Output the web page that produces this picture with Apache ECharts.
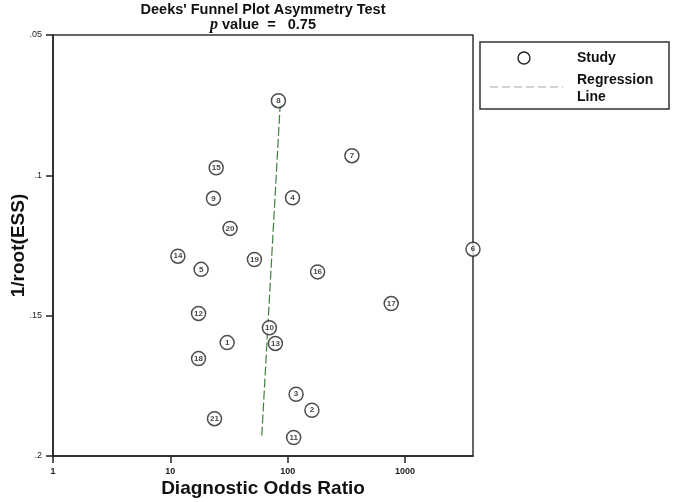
<!DOCTYPE html>
<html>
<head>
<meta charset="utf-8">
<script src="https://cdn.jsdelivr.net/npm/echarts@6/dist/echarts.min.js"></script>
<style>
  html, body { margin: 0; padding: 0; background: #fff; }
  #chart { width: 675px; height: 502px; }
</style>
</head>
<body>
<div id="chart"></div>
<script>
// ---- data ----
const studyIds   = [1, 2, 3, 4, 5, 6, 7, 8, 9, 10, 11, 12, 13, 14, 15, 16, 17, 18, 19, 20, 21];
const oddsRatio  = [30.5, 161, 118, 110, 18.3, 3800, 353, 83.4, 23.3, 69.9, 112.5, 17.4, 78.6, 11.6, 24.6, 180, 763, 17.4, 52.1, 32.3, 23.8];
const invRootESS = [0.1596, 0.1837, 0.1780, 0.1080, 0.1335, 0.1263, 0.0930, 0.0734, 0.1082, 0.1543, 0.1934, 0.1492, 0.1599, 0.1288, 0.0973, 0.1344, 0.1457, 0.1653, 0.1300, 0.1189, 0.1867];
const regLineX   = [86.5, 60.1];
const regLineY   = [0.0742, 0.1932];
const xTickValues = [1, 10, 100, 1000];
const xTickLabels = ['1', '10', '100', '1000'];
const yTickValues = [0.05, 0.1, 0.15, 0.2];
const yTickLabels = ['.05', '.1', '.15', '.2'];
const pValue = '0.75';

const scatterData = studyIds.map((id, i) => ({ value: [oddsRatio[i], invRootESS[i]], name: String(id) }));
const regData = regLineX.map((x, i) => [x, regLineY[i]]);

const chart = echarts.init(document.getElementById('chart'), null, { renderer: 'canvas' });
chart.setOption({
  animation: false,
  backgroundColor: '#fff',
  title: {
    left: 263,
    top: 2,
    textAlign: 'center',
    padding: 0,
    text: "{b|Deeks' Funnel Plot Asymmetry Test}\n{i|p}{b| value  =   " + pValue + "}",
    textStyle: {
      rich: {
        b: { fontFamily: 'Liberation Sans', fontWeight: 'bold', fontSize: 14.5, color: '#111', lineHeight: 15 },
        i: { fontFamily: 'Liberation Serif', fontStyle: 'italic', fontSize: 16, color: '#111', lineHeight: 15 }
      }
    }
  },
  grid: {
    left: 53, right: 202, top: 35, bottom: 46,
    outerBoundsMode: 'none',
    containLabel: false,
    show: true, borderColor: '#333', borderWidth: 1.5, backgroundColor: 'transparent'
  },
  xAxis: {
    type: 'log',
    logBase: 10,
    min: 1,
    max: 3800,
    name: 'Diagnostic Odds Ratio',
    nameLocation: 'middle',
    nameGap: 23,
    nameMoveOverlap: false,
    nameTextStyle: { fontFamily: 'Liberation Sans', fontWeight: 'bold', fontSize: 19, color: '#111' },
    axisLine: { show: true, lineStyle: { color: '#222', width: 1.5 } },
    axisTick: { show: true, length: 7, customValues: xTickValues, lineStyle: { color: '#222', width: 1.5 } },
    axisLabel: {
      customValues: xTickValues,
      formatter: v => { const k = xTickValues.findIndex(t => Math.abs(t - v) < 1e-6 * t); return k >= 0 ? xTickLabels[k] : ''; },
      fontFamily: 'Liberation Sans', fontWeight: 'bold', fontSize: 9, color: '#222', margin: 11
    },
    splitLine: { show: false }
  },
  yAxis: {
    type: 'value',
    inverse: true,
    min: 0.05,
    max: 0.2,
    interval: 0.05,
    name: '1/root(ESS)',
    nameLocation: 'middle',
    nameGap: 25,
    nameMoveOverlap: false,
    nameRotate: 90,
    nameTextStyle: { fontFamily: 'Liberation Sans', fontWeight: 'bold', fontSize: 19, color: '#111' },
    axisLine: { show: true, lineStyle: { color: '#222', width: 1.5 } },
    axisTick: { show: true, length: 7, customValues: yTickValues, lineStyle: { color: '#222', width: 1.5 } },
    axisLabel: {
      customValues: yTickValues,
      formatter: v => { const k = yTickValues.findIndex(t => Math.abs(t - v) < 1e-9); return k >= 0 ? yTickLabels[k] : ''; },
      fontFamily: 'Liberation Sans', fontSize: 9, color: '#222', margin: 11
    },
    splitLine: { show: false }
  },
  series: [
    {
      name: 'Regression Line',
      type: 'line',
      data: regData,
      showSymbol: false,
      symbol: 'none',
      lineStyle: { color: '#3f7f3f', width: 1.2, type: [9, 3] },
      z: 2,
      silent: true
    },
    {
      name: 'Study',
      type: 'scatter',
      data: scatterData,
      clip: false,
      symbol: 'circle',
      symbolSize: 14,
      itemStyle: { color: '#fff', borderColor: '#222', borderWidth: 1.5 },
      label: {
        show: true,
        position: 'inside',
        formatter: p => p.name,
        fontFamily: 'Liberation Sans',
        fontWeight: 'bold',
        fontSize: 8,
        color: '#111'
      },
      z: 3
    }
  ],
  graphic: [
    { type: 'rect', shape: { x: 480, y: 42, width: 189, height: 67 }, style: { fill: '#fff', stroke: '#333', lineWidth: 1.5 }, z: 10 },
    { type: 'circle', shape: { cx: 524, cy: 58, r: 6 }, style: { fill: '#fff', stroke: '#222', lineWidth: 1.4 }, z: 11 },
    { type: 'text', x: 577, y: 58, style: { text: 'Study', fontFamily: 'Liberation Sans', fontWeight: 'bold', fontSize: 14, fill: '#111', verticalAlign: 'middle' }, z: 11 },
    { type: 'line', shape: { x1: 490, y1: 87, x2: 563, y2: 87 }, style: { stroke: '#aaa', lineWidth: 1.2, lineDash: [8, 4] }, z: 11 },
    { type: 'text', x: 577, y: 80, style: { text: 'Regression', fontFamily: 'Liberation Sans', fontWeight: 'bold', fontSize: 14, fill: '#111', verticalAlign: 'middle' }, z: 11 },
    { type: 'text', x: 577, y: 97, style: { text: 'Line', fontFamily: 'Liberation Sans', fontWeight: 'bold', fontSize: 14, fill: '#111', verticalAlign: 'middle' }, z: 11 }
  ]
});
</script>
</body>
</html>
